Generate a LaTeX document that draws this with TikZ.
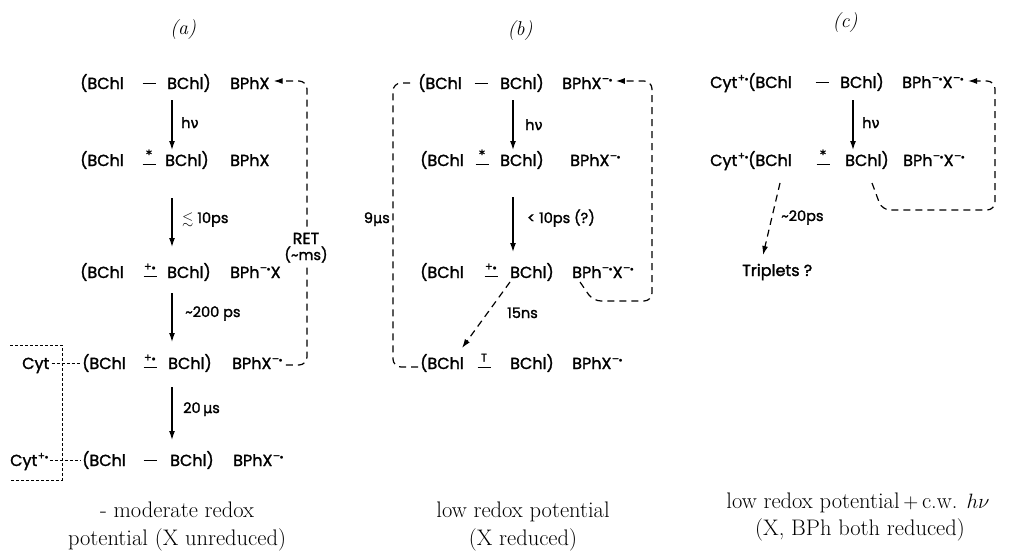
\documentclass[tikz,border=0pt]{standalone}
\usepackage{amsmath,amssymb}
\usepackage{fontspec}
\usetikzlibrary{arrows.meta,calc}
\newfontfamily\chem{Poppins}[RawFeature={embolden=1.6}]
\newfontfamily\dvs{DejaVu Sans}[RawFeature={embolden=1.6}]
% bond with a mark above it, plain bond, radical charges
\newcommand\bnd[1]{\makebox[0pt]{\rule[1.2pt]{13pt}{1.1pt}}\makebox[0pt]{\raisebox{7.5pt}{\fontsize{11}{11}\selectfont #1}}}
\newcommand\sbd{\makebox[0pt]{\rule[4.8pt]{13pt}{1.1pt}}}
\newcommand\dt{$\scriptstyle\bullet$}
\newcommand\exc{{\dvs\fontsize{12}{12}\selectfont *}}
\newcommand\anr{\raisebox{6.5pt}{\fontsize{10.5}{10.5}\selectfont\kern0.5pt–\kern-0.5pt\dt}}
\newcommand\car{\raisebox{6.5pt}{\fontsize{10.5}{10.5}\selectfont\kern0.5pt+\kern-0.5pt\dt}}
\newcommand\hnu{h{\dvs ν}}
\newcommand\mus{{\dvs μ}s}
\begin{document}
\begin{tikzpicture}[x=1pt,y=-1pt,
  sp/.style={font=\chem\fontsize{16}{18}\selectfont, inner sep=0pt, anchor=base west},
  bd/.style={font=\chem\fontsize{16}{18}\selectfont, inner sep=0pt, anchor=base},
  lb/.style={font=\chem\fontsize{14.5}{16}\selectfont, inner sep=0pt, anchor=base west},
  captxt/.style={font=\fontsize{22.5}{27}\selectfont, inner sep=0pt, anchor=base},
  ttl/.style={font=\fontsize{20}{24}\selectfont\itshape, inner sep=0pt},
  rx/.style={line width=1.3pt, -{Latex[length=9pt,width=6pt]}},
  dl/.style={line width=1.2pt, dash pattern=on 7pt off 5pt, rounded corners=8pt},
  dla/.style={dl, -{Latex[length=9pt,width=6pt]}},
  db/.style={line width=1pt, dash pattern=on 3pt off 2pt}]
\useasboundingbox (0,0) rectangle (1011,551);

% ---------- titles
\node[ttl] (ta) at (183,30) {(a)};
\node[ttl] (tb) at (520,31) {(b)};
\node[ttl] (tc) at (845,23) {(c)};

% ---------- scheme (a)
\node[sp] (a1l) at (80,89) {(BChl};
\node[bd] (a1b) at (149,89) {\sbd};
\node[sp] (a1r) at (167,89) {BChl)};
\node[sp] (a1x) at (230,89) {BPhX};

\node[sp] (a2l) at (80,166) {(BChl};
\node[bd] (a2b) at (149,166) {\bnd{\exc}};
\node[sp] (a2r) at (165,166) {BChl)};
\node[sp] (a2x) at (230,166) {BPhX};

\node[sp] (a3l) at (80,278) {(BChl};
\node[bd] (a3b) at (150,278) {\bnd{+\dt}};
\node[sp] (a3r) at (167,278) {BChl)};
\node[sp] (a3x) at (230,278) {BPh\anr X};

\node[sp] (a4c) at (22,369) {Cyt};
\node[sp] (a4l) at (82,369) {(BChl};
\node[bd] (a4b) at (150,369) {\bnd{+\dt}};
\node[sp] (a4r) at (168,369) {BChl)};
\node[sp] (a4x) at (232,369) {BPhX\anr};

\node[sp] (a5c) at (10,466) {Cyt\car};
\node[sp] (a5l) at (82,466) {(BChl};
\node[bd] (a5b) at (150,466) {\sbd};
\node[sp] (a5r) at (170,466) {BChl)};
\node[sp] (a5x) at (233,466) {BPhX\anr};

\draw[rx] ($(a1r.base west)+(5,11)$) -- ($(a2r.base west)+(7,-16)$);
\draw[rx] ($(a2r.base west)+(7,32)$) -- ($(a3r.base west)+(5,-31)$);
\draw[rx] ($(a3r.base west)+(5,15)$) -- ($(a4r.base west)+(4,-27)$);
\draw[rx] ($(a4r.base west)+(4,18)$) -- ($(a5r.base west)+(2,-26)$);
\node[lb] (ah) at (181,128) {\hnu};
\node[lb] (ak1) at (182,223) {$\lesssim$ 10ps};
\node[lb] (ak2) at (185,317) {\textasciitilde200 ps};
\node[lb] (ak3) at (183,413) {20\,\mus};

% recombination loop
\draw[dla] ($(a4x.base east)+(3,-4)$) -- (307,365) -- (307,81) -- ($(a1x.base east)+(4,-8)$);
\node[lb, anchor=base, fill=white, inner sep=2pt, font=\chem\fontsize{16}{18}\selectfont] (ret1) at (306,244) {RET};
\node[lb, anchor=base, fill=white, inner sep=1pt] (ret2) at (306,260) {(\textasciitilde ms)};

% cytochrome bracket
\draw[db] ($(a4c.base east)+(2,-6)$) -- ($(a4l.base west)+(-2,-6)$);
\draw[db] ($(a5c.base east)+(1,-6)$) -- ($(a5l.base west)+(-2,-6)$);
\draw[db] (10,345) -- (62,345) -- (62,480) -- (10,480);

\node[captxt] (ca1) at (177,517) {- moderate redox};
\node[captxt] (ca2) at (177,545) {potential (X unreduced)};

% ---------- scheme (b)
\node[sp] (b1l) at (418,89) {(BChl};
\node[bd] (b1b) at (481,89) {\sbd};
\node[sp] (b1r) at (500,89) {BChl)};
\node[sp] (b1x) at (562,89) {BPhX\anr};

\node[sp] (b2l) at (420,166) {(BChl};
\node[bd] (b2b) at (482,166) {\bnd{\exc}};
\node[sp] (b2r) at (500,166) {BChl)};
\node[sp] (b2x) at (570,166) {BPhX\anr};

\node[sp] (b3l) at (420,278) {(BChl};
\node[bd] (b3b) at (491,278) {\bnd{+\dt}};
\node[sp] (b3r) at (510,278) {BChl)};
\node[sp] (b3x) at (572,278) {BPh\anr X\anr};

\node[sp] (b4l) at (420,369) {(BChl};
\node[bd] (b4b) at (484,369) {\bnd{T}};
\node[sp] (b4r) at (510,369) {BChl)};
\node[sp] (b4x) at (572,369) {BPhX\anr};

\draw[rx] ($(b1r.base west)+(13,11)$) -- ($(b2r.base west)+(13,-16)$);
\draw[rx] ($(b2r.base west)+(13,31)$) -- ($(b3r.base west)+(3,-26)$);
\node[lb] (bh) at (525,130) {\hnu};
\node[lb] (bk1) at (527,223) {< 10ps (?)};

% triplet decay loop
\draw[dl] ($(b4l.base west)+(-2,-2)$) -- (393,367) -- (393,83) -- ($(b1l.base west)+(-3,-6)$);
\node[lb, anchor=base east] (bk3) at (390,223) {9\mus};

% back reaction loop
\draw[dla] ($(b3x.base west)+(8,4)$) -- (593,301) -- (652,301) -- (652,81) -- ($(b1x.base east)+(3,-8)$);

% triplet formation
\draw[dla] ($(b3r.base west)+(0,4)$) -- ($(b4b.base)+(-22,-21)$);
\node[lb] (bk2) at (507,318) {15ns};

\node[captxt] (cb1) at (523,517) {low redox potential};
\node[captxt] (cb2) at (523,545) {(X reduced)};

% ---------- scheme (c)
\node[sp] (c1c) at (710,88) {Cyt\car};
\node[sp] (c1l) at (748,88) {(BChl};
\node[bd] (c1b) at (822,88) {\sbd};
\node[sp] (c1r) at (840,88) {BChl)};
\node[sp] (c1x) at (902,88) {BPh\anr X\anr};

\node[sp] (c2c) at (710,166) {Cyt\car};
\node[sp] (c2l) at (748,166) {(BChl};
\node[bd] (c2b) at (823,166) {\bnd{\exc}};
\node[sp] (c2r) at (845,166) {BChl)};
\node[sp] (c2x) at (903,166) {BPh\anr X\anr};

\node[sp] (tr) at (742,276) {Triplets ?};

\draw[rx] ($(c1r.base west)+(13,12)$) -- ($(c2r.base west)+(8,-16)$);
\node[lb] (ch) at (862,128) {\hnu};

\draw[dla] ($(c2l.base west)+(32,17)$) -- ($(tr.base west)+(21,-21)$);
\node[lb] (ck1) at (781,221) {\textasciitilde20ps};

\draw[dla] ($(c2r.base west)+(27,17)$) -- (882,210) -- (995,210) -- (995,81) -- ($(c1x.base east)+(4,-7)$);

\node[captxt] (cc1) at (858,508) {low redox potential\,$+$\,c.w. $h\nu$};
\node[captxt] (cc2) at (860,535) {(X, BPh both reduced)};
\end{tikzpicture}
\end{document}
